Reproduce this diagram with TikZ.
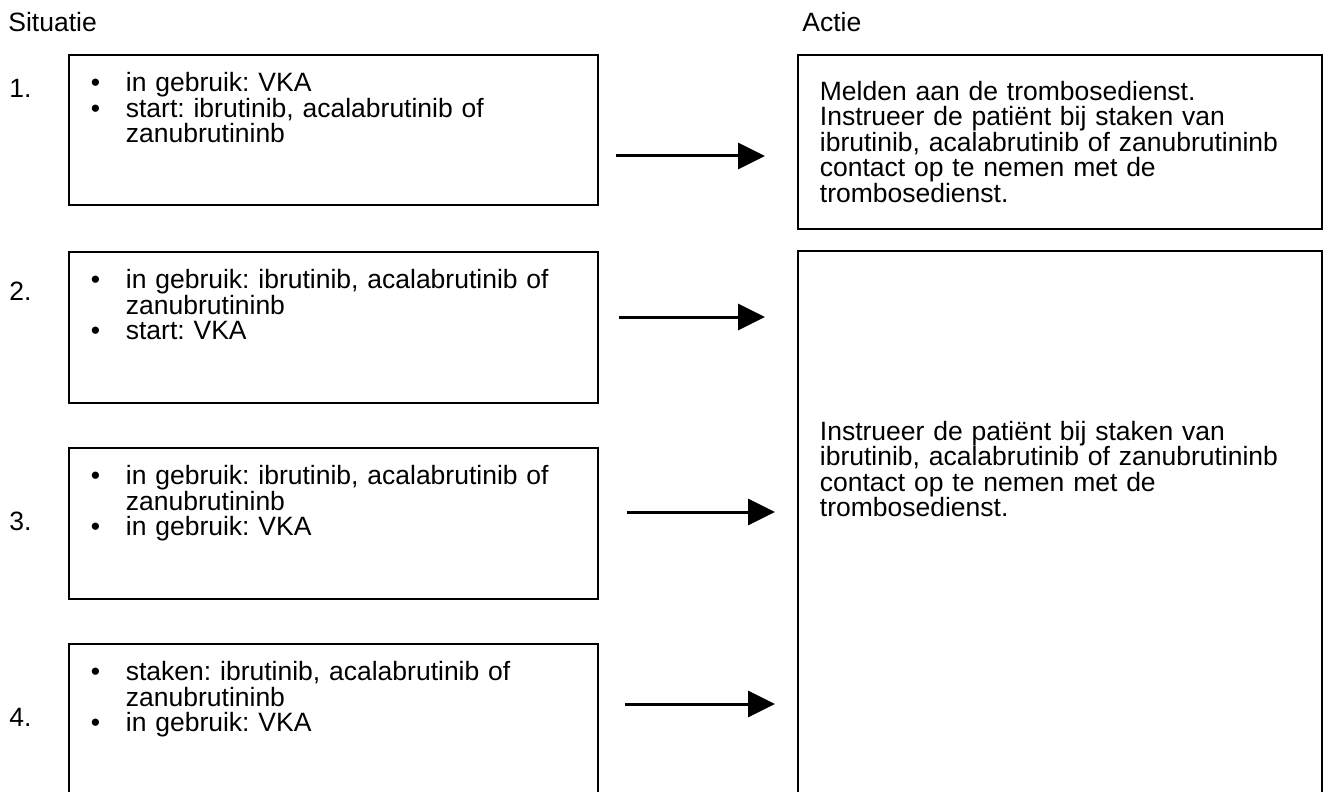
\documentclass[tikz,border=0pt]{standalone}
\usepackage{fontspec}
\setmainfont{Liberation Sans}
\usetikzlibrary{arrows.meta}
\frenchspacing

\newcommand{\itm}[1]{\hangindent=17.5pt\hangafter=1\noindent
    \makebox[17.5pt][l]{\textbullet}#1\par}

\tikzset{
    every node/.style={font=\fontsize{13.25}{12.75}\selectfont},
    box/.style={draw, line width=0.9pt, anchor=north west, align=left,
        inner xsep=11pt, inner ysep=0pt},
    situation/.style={box, text width=242.5pt, text height=18.5pt},
    action/.style={box, text width=240pt},
    heading/.style={anchor=base west, inner sep=0pt},
    number/.style={anchor=base west, inner sep=0pt},
    link/.style={-{Triangle[length=13.5pt, width=13pt]}, line width=1.5pt}
}

\begin{document}
\begin{tikzpicture}[x=0.5pt, y=-0.5pt]
    \useasboundingbox (0,0) rectangle (1328,792);
    \clip (0,0) rectangle (1328,792);

    \node[heading] (situatie) at (8,31.5) {Situatie};
    \node[heading] (actie) at (802,31.5) {Actie};

    \node[number] (n1) at (9,97.5) {1.};
    \node[number] (n2) at (9,300.5) {2.};
    \node[number] (n3) at (9,530) {3.};
    \node[number] (n4) at (9,726.5) {4.};

    \node[situation, text depth=56.5pt] (sit1) at (68,54)
        {\itm{in gebruik: VKA}
         \itm{start: ibrutinib, acalabrutinib of\newline zanubrutininb}};
    \node[situation, text depth=57pt] (sit2) at (68,251)
        {\itm{in gebruik: ibrutinib, acalabrutinib of\newline zanubrutininb}
         \itm{start: VKA}};
    \node[situation, text depth=57pt] (sit3) at (68,447)
        {\itm{in gebruik: ibrutinib, acalabrutinib of\newline zanubrutininb}
         \itm{in gebruik: VKA}};
    \node[situation, text depth=70pt] (sit4) at (68,643)
        {\itm{staken: ibrutinib, acalabrutinib of\newline zanubrutininb}
         \itm{in gebruik: VKA}};

    \node[action, text height=22.75pt, text depth=64.25pt] (act1) at (797,54)
        {Melden aan de trombosedienst.\\Instrueer de patiënt bij staken van\\
         ibrutinib, acalabrutinib of zanubrutininb\\contact op te nemen met de\\
         trombosedienst.};
    \node[action, text height=94.75pt, text depth=185pt] (act2) at (797,250)
        {Instrueer de patiënt bij staken van\\
         ibrutinib, acalabrutinib of zanubrutininb\\contact op te nemen met de\\
         trombosedienst.};

    \coordinate (arr1) at (0,156);
    \coordinate (arr2) at (0,317);
    \coordinate (arr3) at (0,512);
    \coordinate (arr4) at (0,704);
    \draw[link, shorten <=8.5pt, shorten >=16pt] (sit1.east |- arr1) -- (act1.west |- arr1);
    \draw[link, shorten <=10pt, shorten >=16pt] (sit2.east |- arr2) -- (act2.west |- arr2);
    \draw[link, shorten <=14pt, shorten >=11pt] (sit3.east |- arr3) -- (act2.west |- arr3);
    \draw[link, shorten <=13pt, shorten >=11pt] (sit4.east |- arr4) -- (act2.west |- arr4);
\end{tikzpicture}
\end{document}
